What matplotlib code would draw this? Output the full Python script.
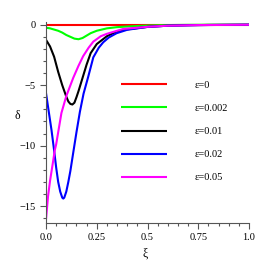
import matplotlib
matplotlib.use("Agg")
import matplotlib.pyplot as plt
from matplotlib.ticker import MultipleLocator

plt.rcParams['font.family'] = ['Liberation Serif', 'DejaVu Serif']

# eps = 0
xi_0 = [0.0, 1.0]
delta_0 = [0.0, 0.0]

# eps = 0.002
xi_1 = [0.0, 0.02, 0.04, 0.06, 0.08, 0.1, 0.12, 0.14, 0.16, 0.18, 0.2, 0.22,
        0.25, 0.3, 0.35, 0.4, 0.5, 0.6, 0.7, 0.8, 1.0]
delta_1 = [-0.25, -0.3, -0.4, -0.5, -0.65, -0.85, -1.0, -1.15, -1.2, -1.1, -0.9, -0.7,
           -0.5, -0.3, -0.2, -0.15, -0.07, -0.03, -0.01, 0.0, 0.0]

# eps = 0.01
xi_2 = [0.0, 0.02, 0.04, 0.06, 0.08, 0.1, 0.11, 0.12, 0.13, 0.14, 0.15, 0.16, 0.18,
        0.2, 0.22, 0.25, 0.3, 0.35, 0.4, 0.5, 0.6, 0.7, 0.8, 1.0]
delta_2 = [-1.25, -1.8, -2.65, -3.9, -5.0, -5.95, -6.35, -6.55, -6.6, -6.45, -6.0, -5.5, -4.4,
           -3.3, -2.35, -1.6, -0.95, -0.55, -0.38, -0.18, -0.08, -0.04, -0.02, 0.0]

# eps = 0.02
xi_3 = [0.0, 0.015, 0.027, 0.04, 0.05, 0.06, 0.07, 0.08, 0.085, 0.09, 0.1, 0.11, 0.12,
        0.134, 0.15, 0.167, 0.185, 0.208, 0.233, 0.26, 0.282, 0.31, 0.348, 0.4, 0.5,
        0.6, 0.75, 1.0]
delta_3 = [-5.65, -7.35, -8.7, -10.4, -11.8, -13.0, -13.8, -14.3, -14.38, -14.3, -13.8, -13.0, -12.1,
           -10.6, -8.9, -7.2, -5.7, -4.3, -2.7, -1.9, -1.45, -1.05, -0.7, -0.42, -0.18,
           -0.08, -0.03, 0.0]

# eps = 0.05
xi_4 = [0.0, 0.01, 0.02, 0.035, 0.043, 0.05, 0.076, 0.1, 0.134, 0.16, 0.183, 0.21, 0.233,
        0.27, 0.3, 0.38, 0.5, 0.6, 0.75, 1.0]
delta_4 = [-16.1, -14.2, -12.9, -11.3, -10.4, -9.9, -7.3, -5.9, -4.4, -3.4, -2.6, -1.9, -1.4,
           -0.95, -0.75, -0.35, -0.17, -0.08, -0.03, 0.0]

labels = ['ε=0', 'ε=0.002', 'ε=0.01', 'ε=0.02', 'ε=0.05']
colors = ['#ff0000', '#00ff00', '#000000', '#0000ff', '#ff00ff']

fig = plt.figure(figsize=(2.66, 2.66), dpi=100)
ax = fig.add_axes([46 / 266, 1 - 223 / 266, 203 / 266, 201.3 / 266])

series = [(xi_0, delta_0), (xi_1, delta_1), (xi_2, delta_2), (xi_3, delta_3), (xi_4, delta_4)]
for (x, y), c, lab in zip(series, colors, labels):
    ax.plot(x, y, color=c, lw=1.5, label=lab, solid_capstyle='butt')

ax.set_xlim(0, 1.0)
ax.set_ylim(-16.4, 0.25)
ax.spines['top'].set_visible(False)
ax.spines['right'].set_visible(False)
for s in ['left', 'bottom']:
    ax.spines[s].set_color('#555555')
    ax.spines[s].set_linewidth(0.8)

ax.set_xticks([0, 0.25, 0.5, 0.75, 1.0])
ax.set_xticklabels(['0.0', '0.25', '0.5', '0.75', '1.0'])
ax.set_yticks([0, -5, -10, -15])
ax.set_yticklabels(['0', '\u22125', '\u221210', '\u221215'])
ax.xaxis.set_minor_locator(MultipleLocator(0.05))
ax.yaxis.set_minor_locator(MultipleLocator(1))
ax.tick_params(which='major', length=4.5, width=0.8, color='#555555', labelsize=7.5, pad=3)
ax.tick_params(which='minor', length=2.5, width=0.8, color='#555555')

ax.set_ylabel('δ', rotation=0, fontsize=8.5)
ax.yaxis.set_label_coords(-0.143, 0.5)
ax.set_xlabel('ξ', fontsize=8.5)
ax.xaxis.set_label_coords(0.49, -0.12)

ax.legend(loc='upper left', bbox_to_anchor=(121 / 266, 0.697), bbox_transform=fig.transFigure,
          frameon=False, fontsize=7.5, handlelength=4.4, handletextpad=2.7,
          labelspacing=1.33, borderpad=0, borderaxespad=0)

fig.savefig('out.png', dpi=100)
